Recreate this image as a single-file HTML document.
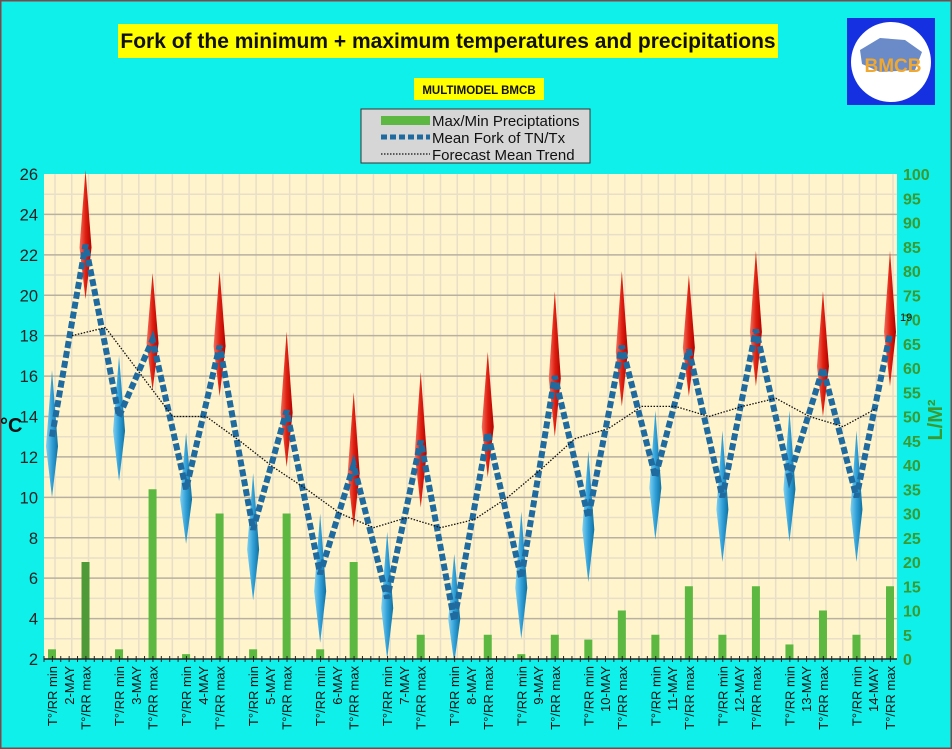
<!DOCTYPE html>
<html><head><meta charset="utf-8"><style>
html,body{margin:0;padding:0;}
body{width:952px;height:749px;overflow:hidden;background:#0ff0ea;font-family:"Liberation Sans",sans-serif;}
</style></head><body>
<svg id="chart" width="952" height="749" xmlns="http://www.w3.org/2000/svg" style="display:block">
<defs>
<linearGradient id="gr" x1="0" x2="1" y1="0" y2="0"><stop offset="0" stop-color="#f07060"/><stop offset="0.5" stop-color="#e02010"/><stop offset="1" stop-color="#b00000"/></linearGradient>
<linearGradient id="gb" x1="0" x2="1" y1="0" y2="0"><stop offset="0" stop-color="#80d0f0"/><stop offset="0.5" stop-color="#30a0d8"/><stop offset="1" stop-color="#1070a0"/></linearGradient>
</defs>
<rect x="0.5" y="0.5" width="951" height="748" fill="#0ff0ea" stroke="#7a4a4a" stroke-width="2"/>
<rect x="118" y="24" width="660" height="34" fill="#ffff00"/>
<text x="448" y="48" text-anchor="middle" font-size="21" font-weight="bold" fill="#111">Fork of the minimum + maximum temperatures and precipitations</text>
<rect x="414" y="78" width="130" height="22" fill="#ffff00"/>
<text x="479" y="94" text-anchor="middle" font-size="11.5" font-weight="bold" fill="#111">MULTIMODEL BMCB</text>
<g>
<rect x="847" y="18" width="88" height="87" fill="#1530e0"/>
<ellipse cx="891" cy="62" rx="40" ry="40" fill="#fff"/>
<path d="M860 50 L880 38 L905 40 L922 52 L915 70 L880 72 L862 64 Z" fill="#6a8ac8"/>
<text x="893" y="72" text-anchor="middle" font-size="19" font-weight="bold" fill="#f0a830">BMCB</text>
</g>
<g>
<rect x="361" y="109" width="229" height="54" fill="#d6d6d6" stroke="#333" stroke-width="1"/>
<rect x="381" y="116" width="49" height="9" fill="#5cb840"/>
<line x1="381" y1="137" x2="430" y2="137" stroke="#1f6a9e" stroke-width="5" stroke-dasharray="6,3"/>
<line x1="381" y1="154" x2="430" y2="154" stroke="#111" stroke-width="1.3" stroke-dasharray="1.5,1.5"/>
<text x="432" y="126" font-size="15" fill="#111">Max/Min Preciptations</text>
<text x="432" y="143" font-size="15" fill="#111">Mean Fork of TN/Tx</text>
<text x="432" y="160" font-size="15" fill="#111">Forecast Mean Trend</text>
</g>
<rect x="44" y="174" width="853" height="485" fill="#fff4cc"/>
<g id="grid"></g>
<g id="bars"></g>
<g id="diamonds"></g>
<g id="lines"></g>
<g id="axes"></g>
<text x="0" y="432" font-size="20" font-weight="bold" fill="#111">°C</text>
<text transform="translate(942,420) rotate(-90)" text-anchor="middle" font-size="20" font-weight="bold" fill="#3a9a30">L/M²</text>
<text x="900" y="321" font-size="11" fill="#111">19</text>
</svg>
<script>
const days = ["2-MAY","3-MAY","4-MAY","5-MAY","6-MAY","7-MAY","8-MAY","9-MAY","10-MAY","11-MAY","12-MAY","13-MAY","14-MAY"];
const catLabels = ["T°/RR min","T°/RR max"];
const meanFork = [13,22.5,14,17.8,10.4,17.5,8.4,14.3,6.2,11.6,5,12.8,3.9,13.2,6,16,9,17.5,11,17.3,10,18.3,11,16.4,10,18.1];
const spreadTop = [16.3,26.2,17,21.1,13.2,21.2,11.2,18.2,9.2,15.2,8.3,16.2,7.2,17.2,9.3,20.2,12.3,21.2,14.3,21,13.3,22.2,14.3,20.2,13.3,22.2];
const spreadBottom = [10,19.8,10.8,15.3,7.7,15,4.9,11.5,2.8,8.5,2,9.5,1.8,11,3,13,5.8,14.5,7.9,15,6.8,15.5,7.8,14,6.8,15.5];
const precip = [2,20,2,35,1,30,2,30,2,20,0,5,0,5,1,5,4,10,5,15,5,15,3,10,5,15];
const trend = [18,18.4,16.2,14,14,12.8,11.5,10.4,9.2,8.5,9,8.5,8.9,10,11.4,12.9,13.4,14.5,14.5,14,14.5,14.9,14,13.5,14.4];
const yTicks = [2,4,6,8,10,12,14,16,18,20,22,24,26];
const y2Ticks = [0,5,10,15,20,25,30,35,40,45,50,55,60,65,70,75,80,85,90,95,100];

const NS="http://www.w3.org/2000/svg";
const L=44,R=897,T=174,B=659;
const x = i => 52 + i*33.52;
const y = v => B - (v-2)/24*(B-T);
const y2 = v => B - v/100*(B-T);
function mk(tag,attrs,parent){const e=document.createElementNS(NS,tag);for(const k in attrs)e.setAttribute(k,attrs[k]);parent.appendChild(e);return e;}
const grid=document.getElementById('grid'),bars=document.getElementById('bars'),dia=document.getElementById('diamonds'),lines=document.getElementById('lines'),axes=document.getElementById('axes');

for(let v=3;v<26;v+=2){const l=mk('line',{x1:L,x2:R,y1:y(v),y2:y(v),stroke:'#e8dfc8','stroke-width':1.5},grid);

}
for(let gx=55;gx<R;gx+=16.76){const l=mk('line',{x1:gx,x2:gx,y1:T,y2:B,stroke:'#e8dfc8','stroke-width':1.5},grid);

}
yTicks.forEach(v=>{if(v>2&&v<26){const l=mk('line',{x1:L,x2:R,y1:y(v),y2:y(v),stroke:'#b8b0a0','stroke-width':1.5},grid);

}
const t=mk('text',{x:38,y:y(v)+6,'text-anchor':'end','font-size':16.5,fill:'#222'},axes);t.textContent=v;

});
y2Ticks.forEach(v=>{const t=mk('text',{x:903,y:y2(v)+6,'font-size':16,'font-weight':'bold',fill:'#3a9a30'},axes);t.textContent=v;

});

precip.forEach((v,i)=>{const r=mk('rect',{x:x(i)-4,y:y2(v),width:8,height:B-y2(v),fill:i===1?'#4f9a38':'#5cb840'},bars);

});

spreadTop.forEach((t,i)=>{const b=spreadBottom[i];const ty=y(t),by=Math.min(y(b),B+8);const my=ty+(by-ty)*0.6;const cx=x(i);
const p=mk('polygon',{points:`${cx},${ty} ${cx+6},${my} ${cx},${by} ${cx-6},${my}`,fill:i%2?'url(#gr)':'url(#gb)'},dia);

});

const mp=mk('polyline',{points:meanFork.map((v,i)=>x(i)+','+y(v)).join(' '),fill:'none',stroke:'#1f6a9e','stroke-width':6,'stroke-dasharray':'7,3'},lines);


const tp=mk('polyline',{points:trend.map((v,i)=>(x(i)+20)+','+y(v)).join(' '),fill:'none',stroke:'#111','stroke-width':1.3,'stroke-dasharray':'1.5,1.5'},lines);



mk('line',{x1:L,x2:R,y1:B,y2:B,stroke:'#222','stroke-width':1.5},axes);
for(let tx=L;tx<=R;tx+=8.38){mk('line',{x1:tx,x2:tx,y1:B-3,y2:B+3,stroke:'#222','stroke-width':1},axes);}
for(let i=0;i<26;i++){const t=mk('text',{transform:`translate(${x(i)+5},666) rotate(-90)`,'text-anchor':'end','font-size':13,fill:'#111'},axes);t.textContent=catLabels[i%2];

}
days.forEach((d,k)=>{const t=mk('text',{transform:`translate(${(x(2*k)+x(2*k+1))/2+5},666) rotate(-90)`,'text-anchor':'end','font-size':13,fill:'#111'},axes);t.textContent=d;

});
</script>
</body></html>
